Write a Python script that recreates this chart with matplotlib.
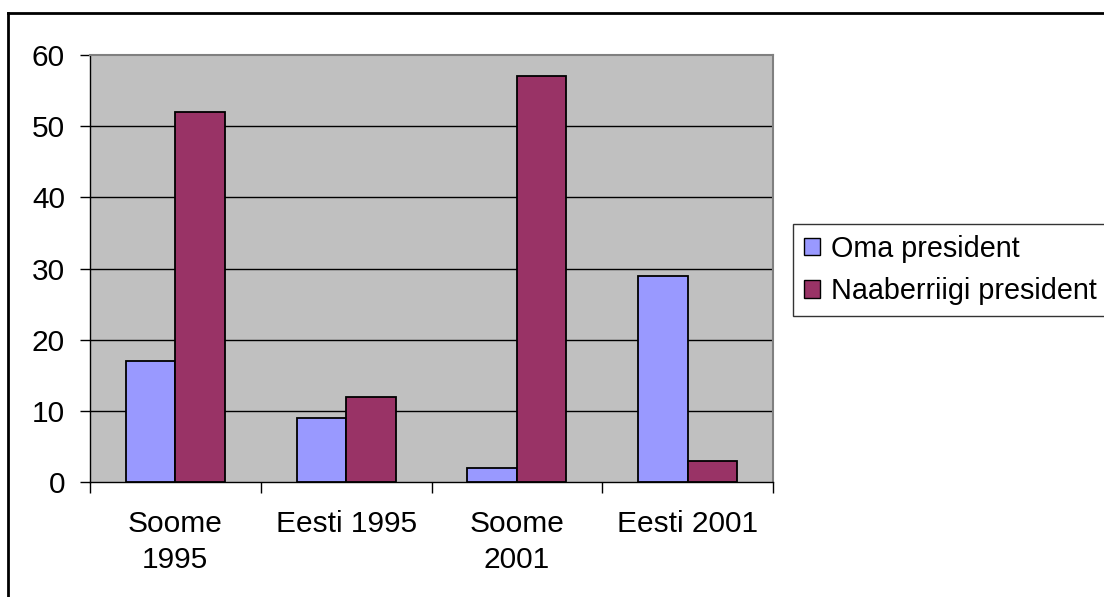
import matplotlib
matplotlib.use("Agg")
import matplotlib.pyplot as plt
from matplotlib.lines import Line2D
from matplotlib.patches import Patch
import numpy as np

plt.rcParams['font.family'] = ['Liberation Sans', 'DejaVu Sans']

categories = ["Soome\n1995", "Eesti 1995", "Soome\n2001", "Eesti 2001"]
series_names = ["Oma president", "Naaberriigi president"]
oma = [17, 9, 2, 29]
naaber = [52, 12, 57, 3]
y_ticks = [0, 10, 20, 30, 40, 50, 60]

col_oma = "#9999FF"
col_naaber = "#993366"
plot_bg = "#C0C0C0"
FS = 21.5
LEG_FS = 20.7

W, H = 1104, 597
fig = plt.figure(figsize=(W / 100, H / 100), dpi=100)
fig.patch.set_facecolor("white")

ax = fig.add_axes([90 / W, 1 - 482 / H, (773 - 90) / W, (482 - 55) / H])
ax.set_facecolor(plot_bg)

x = np.arange(len(categories))
bw = 0.29
ax.bar(x - bw / 2, oma, width=bw, color=col_oma, edgecolor="black",
       linewidth=1.3, zorder=3, label=series_names[0])
ax.bar(x + bw / 2, naaber, width=bw, color=col_naaber, edgecolor="black",
       linewidth=1.3, zorder=3, label=series_names[1])

ax.set_xlim(-0.5, len(categories) - 0.5)
ax.set_ylim(0, 60)

# horizontal gridlines
for v in y_ticks[1:-1]:
    ax.axhline(v, color="black", linewidth=1.0, zorder=1)

# y axis
ax.set_yticks(y_ticks)
ax.tick_params(axis="y", direction="out", length=7, width=1, pad=11,
               labelsize=FS, colors="black")

# x axis: tick marks at category boundaries, labels at category centres
ax.set_xticks(np.arange(-0.5, len(categories), 1.0))
ax.set_xticklabels([])
ax.tick_params(axis="x", which="major", direction="out", length=8, width=1)
ax.set_xticks(x, minor=True)
ax.set_xticklabels(categories, minor=True, fontsize=FS, linespacing=1.38)
ax.tick_params(axis="x", which="minor", length=0, pad=20)

for s in ["left", "bottom"]:
    ax.spines[s].set_color("black")
    ax.spines[s].set_linewidth(1.0)
for s in ["top", "right"]:
    ax.spines[s].set_color("#808080")
    ax.spines[s].set_linewidth(1.5)

handles = [Patch(facecolor=col_oma, edgecolor="black", linewidth=1.0),
           Patch(facecolor=col_naaber, edgecolor="black", linewidth=1.0)]
leg = fig.legend(handles, series_names, loc="upper left",
                 bbox_to_anchor=(793 / W, 1 - 224 / H),
                 bbox_transform=fig.transFigure,
                 fontsize=LEG_FS, frameon=True, fancybox=False,
                 handlelength=0.55, handleheight=0.55, handletextpad=0.4,
                 labelspacing=0.5, borderpad=0.38, borderaxespad=0)
leg.get_frame().set_edgecolor("black")
leg.get_frame().set_linewidth(1.0)

# outer chart frame
fig.add_artist(Line2D([8 / W, 8 / W], [0, 1 - 13 / H], transform=fig.transFigure,
                      color="black", linewidth=2))
fig.add_artist(Line2D([8 / W, 1], [1 - 13 / H, 1 - 13 / H], transform=fig.transFigure,
                      color="black", linewidth=2))

fig.savefig("out.png", dpi=100)
